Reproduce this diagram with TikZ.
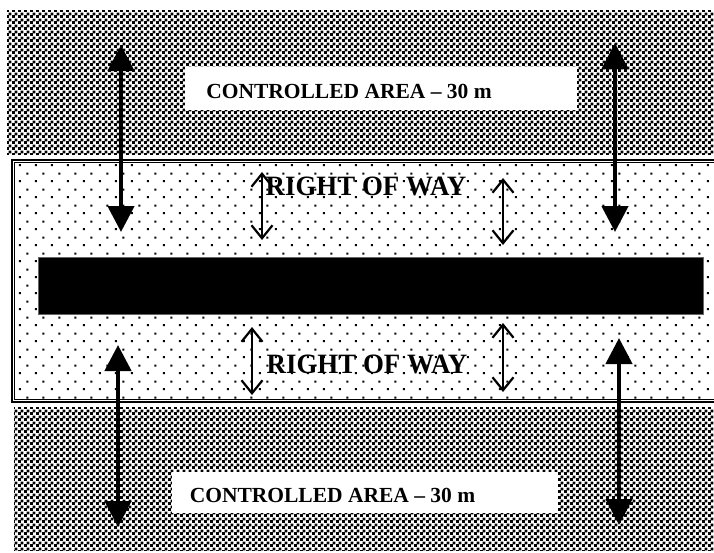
\documentclass[tikz,border=0pt]{standalone}
\usepackage{fontspec}
\setmainfont{Liberation Serif}
\usetikzlibrary{patterns,arrows.meta}

% fine checkerboard for the controlled strips
\pgfdeclarepatternformonly{finechecks}{\pgfqpoint{0pt}{0pt}}{\pgfqpoint{6pt}{6pt}}{\pgfqpoint{6pt}{6pt}}{%
  \pgfpathrectangle{\pgfqpoint{0pt}{0pt}}{\pgfqpoint{3.3pt}{3.3pt}}%
  \pgfpathrectangle{\pgfqpoint{3pt}{3pt}}{\pgfqpoint{3.3pt}{3.3pt}}%
  \pgfusepath{fill}}
% staggered dot grid for the right of way
\pgfdeclarepatternformonly{rowdots}{\pgfqpoint{0pt}{0pt}}{\pgfqpoint{16pt}{16pt}}{\pgfqpoint{16pt}{16pt}}{%
  \pgfpathrectangle{\pgfqpoint{3pt}{3pt}}{\pgfqpoint{2.2pt}{2.2pt}}%
  \pgfpathrectangle{\pgfqpoint{11pt}{11pt}}{\pgfqpoint{2.2pt}{2.2pt}}%
  \pgfusepath{fill}}

\tikzset{
  controlled/.style={pattern=finechecks, pattern color=black},
  rowdotted/.style={pattern=rowdots, pattern color=black},
  rowedge/.style={draw=black, line width=1.1pt},
  road/.style={fill=black, draw=black!60, line width=1pt},
  labelpad/.style={fill=white, draw=none},
  arealabel/.style={anchor=base, inner sep=0pt,
    font=\fontsize{21.5}{24}\selectfont\bfseries},
  waylabel/.style={anchor=base, inner sep=0pt,
    font=\fontsize{28}{30}\selectfont\bfseries},
  bigarrow/.style={line width=4.5pt,
    {Triangle[length=26pt,width=26pt]}-{Triangle[length=26pt,width=26pt]}},
  thinarrow/.style={line width=2.2pt, line cap=round,
    {Straight Barb[length=13pt,width=21pt]}-{Straight Barb[length=13pt,width=21pt]}}
}

\begin{document}
\begin{tikzpicture}[x=1pt,y=-1pt]
  \useasboundingbox (0,0) rectangle (714,552);

  % controlled strips
  \fill[controlled] (7,10) rectangle (714,154);
  \fill[controlled] (14,407) rectangle (714,550);

  % right of way band (runs off the right side), double edge
  \fill[rowdotted] (12,160) rectangle (730,402);
  \draw[rowedge] (12,160) rectangle (730,402);
  \draw[rowedge] (14.3,162.3) rectangle (730,399.7);

  % carriageway
  \path[road] (38,257) rectangle (703,314);

  % white label pads
  \fill[labelpad] (185,67) rectangle (577,110);
  \fill[labelpad] (172,472) rectangle (558,513);

  % labels
  \node[arealabel] (topArea) at (349,98) {CONTROLLED AREA -- 30 m};
  \node[arealabel] (botArea) at (332.5,502) {CONTROLLED AREA -- 30 m};
  \node[waylabel] (topWay) at (366,195) {\scalebox{0.96}[1]{RIGHT OF WAY}};
  \node[waylabel] (botWay) at (367,373) {\scalebox{0.96}[1]{RIGHT OF WAY}};

  % end points of the dimension arrows
  \coordinate (tlA) at (121,45);   \coordinate (tlB) at (121,232);
  \coordinate (trA) at (615,43);   \coordinate (trB) at (615,232);
  \coordinate (blA) at (118,345);  \coordinate (blB) at (118,527);
  \coordinate (brA) at (619,338);  \coordinate (brB) at (619,525);

  \coordinate (wtlA) at (262,172); \coordinate (wtlB) at (262,240);
  \coordinate (wtrA) at (503,178); \coordinate (wtrB) at (503,245);
  \coordinate (wblA) at (252,327); \coordinate (wblB) at (252,395);
  \coordinate (wbrA) at (503,323); \coordinate (wbrB) at (503,392);

  % controlled-area widths
  \draw[bigarrow] (tlA) -- (tlB);
  \draw[bigarrow] (trA) -- (trB);
  \draw[bigarrow] (blA) -- (blB);
  \draw[bigarrow] (brA) -- (brB);

  % right-of-way widths
  \draw[thinarrow] (wtlA) -- (wtlB);
  \draw[thinarrow] (wtrA) -- (wtrB);
  \draw[thinarrow] (wblA) -- (wblB);
  \draw[thinarrow] (wbrA) -- (wbrB);
\end{tikzpicture}
\end{document}
